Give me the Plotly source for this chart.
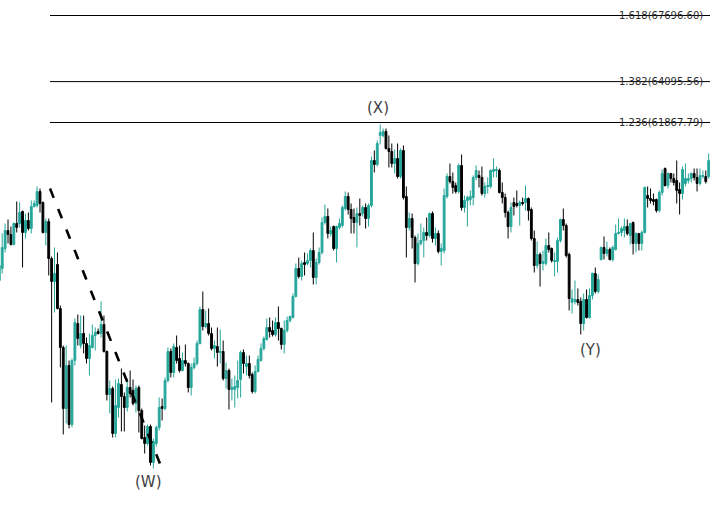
import plotly.graph_objects as go

opens = [53261,53915,55004,55985,55767,55222,56366,56366,57020,55876,56529,56093,57292,57347,58110,57510,55876,56475,54459,53207,
54132,51736,49611,46288,48631,45416,48903,50918,49720,50374,49829,49012,49611,50265,50483,50374,50864,49394,47051,47378,
44927,46343,47595,46942,46343,47432,47269,46561,47432,46179,44709,44382,45308,43346,44382,45253,46397,46288,47813,49394,
48249,49611,49012,48358,48903,48740,47432,48522,48740,49829,51681,50755,50919,50374,49556,49666,49339,49394,47922,48358,
47323,47323,47432,47868,49339,48576,48740,48140,47214,48304,48903,49556,50047,50700,50537,50319,50973,50646,49775,50537,
51082,51245,52389,53915,53479,54241,54187,54350,54895,53424,54241,54786,56420,56747,55822,56202,55004,56148,56257,57183,
57837,57129,56692,56420,56911,56911,57238,56638,57347,59798,59580,61160,61160,61378,60452,60288,59635,59907,58926,60343,
57837,56148,56638,55603,54187,55277,55440,55876,55712,56911,55549,55822,54841,54895,57837,58926,58654,58436,58110,59526,
57238,57619,57673,57782,58872,58981,58872,58000,58381,58381,59199,59253,59253,58055,57782,56965,56202,57510,57456,57347,
57510,57510,57728,57129,55549,54078,54677,54187,54187,55168,55004,54296,54296,55440,56583,56257,54677,52063,52117,52226,
52117,50919,52226,51245,52444,53643,52662,54405,55059,54732,54950,54405,54950,55822,55876,55985,56202,55712,56420,55277,
55822,55277,55876,57891,57728,57673,57673,57074,58055,59362,58436,59090,58817,58708,58218,58000,58545,58708,58817,59090,
58872,58545,58926,58926,58926]

highs = [55059,55822,56366,56583,56202,56420,57565,57510,57074,56911,56965,57619,57619,58381,58273,57565,56638,56638,54568,55059,
54786,51899,49720,49720,48903,49012,51191,51409,51354,51354,50156,50374,50864,50700,50646,52117,51354,49448,47813,47486,
47868,47922,48467,47160,47922,48358,47868,47541,47541,46288,45362,45416,45416,44654,45362,46887,46833,47977,49611,49556,
49829,50265,49720,49339,49775,48794,48740,49066,49992,51845,52662,51627,51736,50700,49992,50700,50592,49992,48794,48467,
47922,48086,48903,49448,49502,49175,49175,48249,48631,49175,49829,50210,51191,51245,51082,51245,51845,50700,51082,51300,
51354,52553,54187,54514,54350,54786,54732,55004,55876,54459,55059,56693,57401,57183,56202,56257,56257,56638,57347,58110,
58055,57456,57183,57238,57728,57347,57456,57456,60016,60343,60887,61759,61541,61541,61160,60724,60397,60724,60452,60615,
58381,56965,56911,55712,55822,56366,56148,56693,56965,57020,56148,55985,55277,58273,59090,59635,59144,58600,59635,60125,
57891,57891,58164,58981,59526,59253,59471,58600,58872,59308,59907,59471,59362,58600,58000,57074,57510,57782,58164,57619,
57782,58436,57782,57238,55985,55386,54786,54895,55549,55876,55059,54786,55603,56638,57183,56366,54786,52771,53261,52825,
52335,52553,52771,52825,53697,53969,53588,55113,55658,55386,55059,55168,56311,56638,56202,56638,56583,56366,56475,55876,
55822,55985,58381,58381,58273,58000,57728,58164,59308,59417,59144,59090,59090,59798,58600,59471,59635,59090,59144,59362,
59362,59362,59253,59253,60179]

lows = [52607,53643,54786,55277,55168,55168,55876,56148,53969,55549,55985,55822,57238,57238,56965,55822,55168,53534,46615,51518,
51681,48521,44872,45471,45199,45253,48631,49720,49556,49285,48740,48086,49556,49448,50319,50156,49339,46724,46016,44709,
44709,45797,45036,45036,46125,46887,46452,46070,44981,44599,43837,44272,43183,43020,44218,45090,45634,46179,47704,47977,
47977,48740,48249,48304,48576,47160,46996,48413,48631,49775,50537,50646,50265,49448,49012,48576,48740,47813,47378,46234,
46724,46343,46833,46887,48195,48086,47922,47106,47106,48249,48849,49448,49992,50156,50210,50210,49992,49502,49285,50428,
50973,51191,52335,53370,53261,53534,54078,53969,53043,53043,54132,54677,56311,55549,55658,54895,54241,56039,56148,57074,
56856,55822,55822,55059,56257,56747,56093,56202,57238,59144,59471,60669,61051,60397,59417,59417,59090,58817,58817,57673,
54514,55985,55004,53152,54078,55168,54514,55440,55603,55331,55168,54732,54078,54732,57728,58545,58000,58000,58000,57074,
56965,56202,57347,57347,58708,58327,57891,57782,58000,58273,58872,58872,58000,57456,56693,55549,55876,56802,57238,56257,
57347,57074,56529,55440,53697,53915,52934,53806,54078,54786,54241,53479,53697,55331,55985,54514,51627,51463,51954,51899,
50319,50537,51191,51191,52226,52553,52553,54350,54405,54568,54350,54296,54895,55767,55658,55603,55712,55222,54677,54786,
54895,54895,55822,57238,57456,57347,56965,56965,57891,58381,58273,58600,58436,57456,56856,57673,58381,58545,58600,58708,
58110,58436,58817,58545,58817]

closes = [54078,55059,55985,55767,55222,56366,56148,56965,55876,56529,56093,57292,57456,58110,57456,55876,56475,54459,53207,53643,
51736,49611,46288,48631,45416,48903,50973,50101,50374,49829,49012,49720,50265,50428,50374,50864,49394,47051,47378,44927,
46451,47650,46942,46343,47432,47106,46561,47378,46179,44654,44382,45308,43346,44490,45253,46343,46288,47813,49394,48249,
49666,48903,48358,48903,48740,47432,48522,48740,49829,51681,50755,50919,50374,49556,49720,49339,49394,47922,48358,47323,
47432,47487,47813,49339,48740,48740,48086,47214,48304,48957,49556,50101,50700,50483,50319,50973,50646,49775,50537,51082,
51300,52389,53915,53479,54187,54132,54350,54895,53424,54241,54786,56420,56747,55822,55985,55004,56202,56366,57238,57837,
57129,56638,56420,56911,56802,57238,56638,57347,59798,59580,60724,61323,61378,60452,60288,59635,59907,58926,60343,57782,
56148,56638,55603,54187,55277,55440,55876,55712,56911,55549,55822,54841,55004,57891,58926,58654,58327,58110,59526,57238,
57619,57782,57837,58872,59253,58872,58000,58381,58436,59253,59308,59308,58055,57782,56965,56202,57238,57292,57347,57510,
57456,57728,57074,55549,54078,54677,54187,54296,55168,54950,54350,54350,55440,56583,56257,54623,52280,52280,52226,52063,
50919,52226,51245,52444,53643,52662,53315,55059,54732,54950,54405,55059,55822,55876,56093,56202,55822,56366,55277,55822,
55277,55876,58327,57728,57619,57565,57074,58055,59090,58436,59090,58817,58600,58164,58000,59308,58817,58817,59090,58872,
58545,58981,58981,58654,59798]

# Fibonacci extension drawn between the swing high before (W) and the (W) low
fib_anchor_high = 58266.8
fib_anchor_low = 43008.2
fib_levels = ["1.618", "1.382", "1.236"]
fib_prices = [67696.60, 64095.56, 61867.79]

wave_labels = ["(W)", "(X)", "(Y)"]
wave_label_x = [52.2, 131.3, 204.2]
wave_label_price = [42257, 62685, 49448]

x = list(range(1, len(closes) + 1))
x_min, x_max = 1.243, 245.45
y_min, y_max = 40922, 68541
fib_start_x, fib_end_x = 18.44, 56.97

up_color = "#26a69a"
down_color = "#000000"

fig = go.Figure()
fig.add_trace(go.Candlestick(
    x=x, open=opens, high=highs, low=lows, close=closes,
    increasing=dict(line=dict(color=up_color, width=1), fillcolor=up_color),
    decreasing=dict(line=dict(color=down_color, width=1), fillcolor=down_color),
    whiskerwidth=0, hoverinfo="skip", showlegend=False,
))

# dashed W leg
fig.add_shape(type="line", xref="x", yref="y",
              x0=fib_start_x, y0=fib_anchor_high, x1=fib_end_x, y1=fib_anchor_low,
              line=dict(color="#000000", width=2.6, dash="10px,12px"))

for lvl, p in zip(fib_levels, fib_prices):
    fig.add_shape(type="line", xref="x", yref="y",
                  x0=fib_start_x, x1=x_max, y0=p, y1=p,
                  line=dict(color="#000000", width=1))
    fig.add_annotation(x=0.993, xref="paper", y=p, yref="y",
                       text=f"{lvl}({p:.2f})", showarrow=False,
                       xanchor="right", yanchor="middle",
                       font=dict(family="DejaVu Sans", size=10, color="#2b2b2b"))

for t, lx, lp in zip(wave_labels, wave_label_x, wave_label_price):
    fig.add_annotation(x=lx, y=lp, text=t, showarrow=False,
                       xanchor="center", yanchor="middle",
                       font=dict(family="DejaVu Sans", size=15, color="#404040"))

fig.update_layout(
    width=710, height=507,
    margin=dict(l=0, r=0, t=0, b=0),
    paper_bgcolor="white", plot_bgcolor="white",
    boxgap=0.1,
    showlegend=False,
    xaxis=dict(range=[x_min, x_max], visible=False, showgrid=False,
               rangeslider=dict(visible=False), fixedrange=True),
    yaxis=dict(range=[y_min, y_max], visible=False, showgrid=False, fixedrange=True),
)

fig.write_html("out.html", config={"displayModeBar": False},
               post_script="document.body.style.margin='0';document.body.style.overflow='hidden';")
